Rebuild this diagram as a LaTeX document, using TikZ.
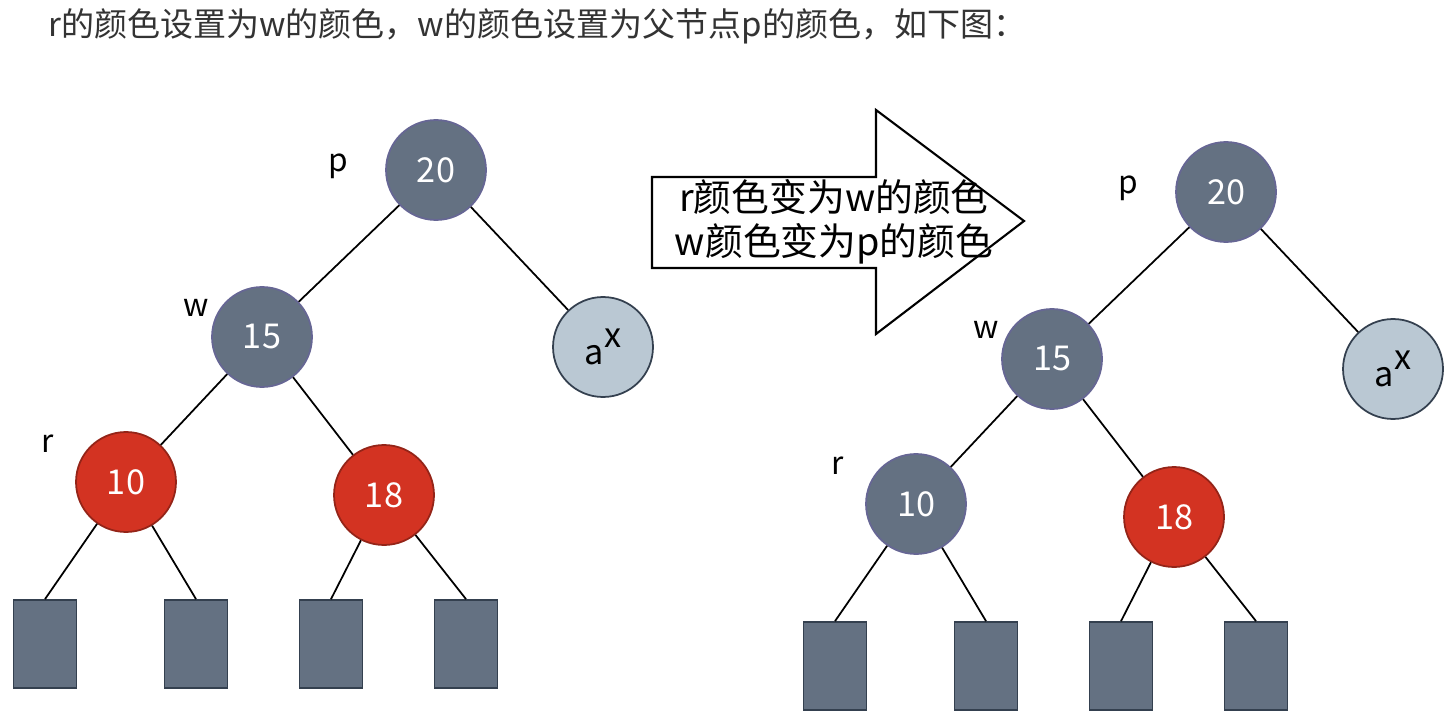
\documentclass[tikz,border=0pt]{standalone}
\usepackage{fontspec}
\setmainfont{Noto Sans CJK SC}
\begin{document}
\begin{tikzpicture}[x=0.02cm,y=-0.02cm,
  dk/.style={circle,draw=black!70!blue!60,line width=1pt,fill=slategray,minimum size=2cm,text=white,font=\fontsize{19.5}{19.5}\selectfont},
  rd/.style={dk,fill=rbred,draw=rbred!70!black},
  lt/.style={dk,fill=lightc,draw=darkb,text=black},
  leaf/.style={draw=darkb,line width=1pt,fill=slategray,minimum width=1.26cm,minimum height=1.76cm,inner sep=0pt},
  lab/.style={font=\fontsize{18}{18}\selectfont},
  edge/.style={line width=1pt}]
\definecolor{slategray}{HTML}{647182}
\definecolor{rbred}{HTML}{D33322}
\definecolor{lightc}{HTML}{BAC8D3}
\definecolor{darkb}{HTML}{34404F}
\useasboundingbox (0,0) rectangle (1452,716);
\node[anchor=west,font=\fontsize{18.8}{18.8}\selectfont,text=black!80] (t) at (42,26) {r的颜色设置为w的颜色，w的颜色设置为父节点p的颜色，如下图：};
% arrow
\draw[line width=1.2pt,fill=white] (652,177) -- (876,177) -- (876,110) -- (1024,221) -- (876,334) -- (876,268) -- (652,268) -- cycle;
\node[font=\fontsize{21.5}{25}\selectfont,align=center] (at) at (834,222) {r颜色变为w的颜色\\w颜色变为p的颜色};
\foreach \dx/\dy/\c/\s in {0/0/rd/L,790/22/dk/R}{
\begin{scope}[shift={(\dx,\dy)}]
\node[dk] (p\s) at (436,170) {20};
\node[dk] (w\s) at (262,337) {15};
\node[lt] (a\s) at (603,347) {a\raisebox{0.5em}{x}};
\node[\c] (r\s) at (126,482) {10};
\node[rd] (e\s) at (384,495) {18};
\node[leaf] (l1\s) at (45,644) {};
\node[leaf] (l2\s) at (196,644) {};
\node[leaf] (l3\s) at (331,644) {};
\node[leaf] (l4\s) at (466,644) {};
\node[lab] (pp\s) at (338,166) {p};
\node[lab] (ww\s) at (196,308) {w};
\node[lab] (rr\s) at (48,444) {r};
\draw[edge] (p\s)--(w\s) (p\s)--(a\s) (w\s)--(r\s) (w\s)--(e\s)
  (r\s)--(l1\s.north) (r\s)--(l2\s.north) (e\s)--(l3\s.north) (e\s)--(l4\s.north);
\end{scope}}
\end{tikzpicture}
\end{document}
